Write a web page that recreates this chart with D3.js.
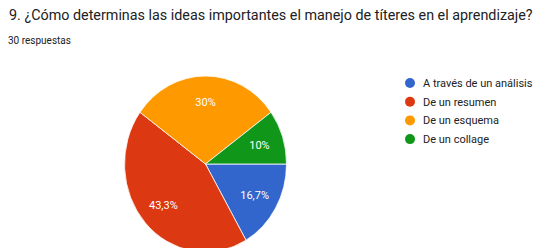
<!DOCTYPE html>
<html>
<head>
<meta charset="utf-8">
<script src="https://cdn.jsdelivr.net/npm/d3@7"></script>
<style>
html,body{margin:0;padding:0;background:#fff;}
svg{display:block;font-family:Roboto, Arial, sans-serif;}
</style>
</head>
<body>
<svg id="chart" width="540" height="248"></svg>
<script>
const title = "9. ¿Cómo determinas las ideas importantes el manejo de títeres en el aprendizaje?";
const subtitle = "30 respuestas";
const categories = ["A través de un análisis", "De un resumen", "De un esquema", "De un collage"];
const counts = [5, 13, 9, 3];
const colors = ["#3366cc", "#dc3912", "#ff9900", "#109618"];

const svg = d3.select("#chart");
const W = 540, H = 248;
svg.append("rect").attr("width", W).attr("height", H).attr("fill", "#fff");

// title: fit to reference width by horizontal scaling
const tTitle = svg.append("text").attr("x", 0).attr("y", 0)
  .attr("font-size", 15.5).attr("fill", "#202124")
  .text(title);
const natW = tTitle.node().getComputedTextLength();
const targetW = 524;
const kx = Math.min(1, targetW / natW);
tTitle.attr("transform", `translate(9,20) scale(${kx},1)`);

const tSub = svg.append("text").attr("x", 0).attr("y", 0)
  .attr("font-size", 10).attr("fill", "#202124")
  .text(subtitle);
const subW = tSub.node().getComputedTextLength();
tSub.attr("transform", `translate(8,44) scale(${Math.min(1, 64 / subW)},1)`);

const cx = 205.5, cy = 164, r = 81, sy = 88 / 81;
const total = d3.sum(counts);
const pie = d3.pie().sort(null).value(d => d)
  .startAngle(Math.PI / 2).endAngle(Math.PI / 2 + 2 * Math.PI);
const arcs = pie(counts);
const arc = d3.arc().innerRadius(0).outerRadius(r);
const labelArc = d3.arc().innerRadius(r * 0.7).outerRadius(r * 0.7);

const g = svg.append("g").attr("transform", `translate(${cx},${cy})`);
g.append("g").attr("transform", `scale(1,${sy})`)
  .selectAll("path").data(arcs).join("path")
  .attr("d", arc)
  .attr("fill", (d, i) => colors[i])
  .attr("stroke", "#fff").attr("stroke-width", 0.8)
  .attr("vector-effect", "non-scaling-stroke");

const fmt = v => {
  const p = Math.round(v / total * 1000) / 10;
  return String(p).replace(".", ",") + "%";
};
g.selectAll("text.lbl").data(arcs).join("text")
  .attr("class", "lbl")
  .attr("x", d => labelArc.centroid(d)[0])
  .attr("y", d => labelArc.centroid(d)[1] * sy)
  .attr("dy", "0.35em")
  .attr("text-anchor", "middle")
  .attr("font-size", 11).attr("fill", "#fff")
  .text(d => fmt(d.value));

const lg = svg.append("g").attr("transform", "translate(410,83)");
const items = lg.selectAll("g").data(categories).join("g")
  .attr("transform", (d, i) => `translate(0,${i * 18.7})`);
items.append("circle").attr("r", 5).attr("fill", (d, i) => colors[i]);
items.append("text").attr("x", 13).attr("dy", "0.35em")
  .attr("font-size", 11).attr("fill", "#222").text(d => d);
</script>
</body>
</html>
